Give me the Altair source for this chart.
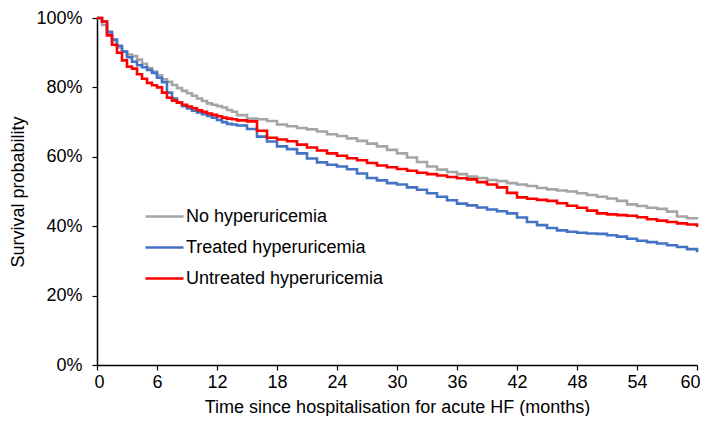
import altair as alt
import pandas as pd

months = [i * 0.5 for i in range(29)] + list(range(15, 61))

no_hyper = [100, 98, 95.5, 93.4, 91.5, 90.3, 89.5, 89, 88, 86.8, 85.6, 84.6, 83.5, 82.3,
            81.6, 80.7, 79.8, 79, 78.3, 77.6, 76.8, 76.1, 75.4, 75, 74.6, 74.2, 73.5, 73, 72,
            71, 70.8, 70.3, 69.3, 68.8, 68.3, 67.9, 67.3, 66.5, 66,
            65.3, 64.6, 63.8, 63, 62, 61, 59.8, 58.5, 57.2, 56.3,
            55.6, 55, 54.3, 53.9, 53.3, 53, 52.4, 52, 51.6, 51,
            50.6, 50.3, 50, 49.5, 49, 48.5, 48, 47.3, 46.3, 45.8,
            45.3, 45, 44.2, 42.8, 42.3, 42]
treated = [100, 99, 96, 93.8, 92, 90.3, 88.7, 87.4, 86.4, 85.8, 85, 84.2, 82.8, 81.5,
           78.5, 76.8, 75.6, 74.6, 73.9, 73.3, 72.8, 72.3, 71.8, 71.3, 70.6, 70, 69.5, 69.3, 69,
           68, 65.8, 64.4, 63, 62.2, 61, 59.5, 58.4, 57.7, 57.2,
           56.4, 55.2, 53.9, 53.2, 52.4, 52, 51.2, 50.5, 49.5, 48.5,
           47.5, 46.5, 46, 45.4, 44.8, 44.3, 43.7, 42.5, 41.2, 40.3,
           39.5, 38.8, 38.4, 38.1, 37.9, 37.8, 37.4, 37, 36.4, 35.8,
           35.4, 35, 34.5, 34, 33.4, 32.5]
untreated = [100, 99, 95, 92.3, 90, 87.8, 86, 85.4, 83.8, 82.5, 81.3, 80.6, 80, 78.5,
             77, 76.2, 75.6, 75, 74.5, 74, 73.4, 73, 72.5, 72.1, 71.7, 71.3, 71, 70.8, 70.5,
             70.2, 67.5, 65.5, 65, 64.5, 63.5, 62.7, 61.8, 61, 60.3,
             59.6, 59, 58.2, 57.5, 57, 56.5, 56, 55.4, 55, 54.6,
             54.2, 53.8, 53.5, 52.7, 52, 51.2, 49.6, 48.3, 47.9, 47.6,
             47.3, 46.6, 45.9, 45.3, 44.5, 43.7, 43.4, 43.2, 43, 42.6,
             42, 41.6, 41.2, 40.8, 40.5, 39.8]

series_names = ["No hyperuricemia", "Treated hyperuricemia", "Untreated hyperuricemia"]
series_colors = ["#A5A5A5", "#4472C4", "#FF0000"]
x_ticks = list(range(0, 61, 6))
y_ticks = [0, 0.2, 0.4, 0.6, 0.8, 1.0]

rows = []
for k, (name, vals) in enumerate(zip(series_names, [no_hyper, treated, untreated])):
    for m, v in zip(months, vals):
        rows.append({"month": m, "surv": v / 100, "group": name, "k": k})
df = pd.DataFrame(rows)

FONT = "Liberation Sans"

chart = alt.Chart(df).mark_line(strokeWidth=2.6, interpolate="step-after").encode(
    x=alt.X("month:Q",
            scale=alt.Scale(domain=[0, 60], nice=False, zero=False),
            axis=alt.Axis(values=x_ticks, title="Time since hospitalisation for acute HF (months)",
                          grid=False, domainColor="black", domainWidth=1.5,
                          tickColor="black", tickSize=5, tickWidth=1.2,
                          labelFontSize=18, titleFontSize=18, labelColor="black",
                          titleColor="black", titleFontWeight="normal",
                          labelFont=FONT, titleFont=FONT, labelPadding=3, titlePadding=7,
                          labelFlush=True, labelFlushOffset=3)),
    y=alt.Y("surv:Q",
            scale=alt.Scale(domain=[0, 1], nice=False),
            axis=alt.Axis(values=y_ticks, format="%", title="Survival probability",
                          grid=False, domainColor="black", domainWidth=1.5,
                          tickColor="black", tickSize=5, tickWidth=1.2,
                          labelFontSize=18, titleFontSize=18, labelColor="black",
                          titleColor="black", titleFontWeight="normal",
                          labelFont=FONT, titleFont=FONT, labelPadding=10, titlePadding=8)),
    color=alt.Color("group:N",
                    scale=alt.Scale(domain=series_names, range=series_colors),
                    legend=alt.Legend(title=None, orient="none", legendX=47, legendY=183,
                                      symbolType="stroke", symbolSize=1444,
                                      symbolStrokeWidth=2.6, labelFontSize=18,
                                      labelFont=FONT, labelColor="black", labelLimit=0,
                                      clipHeight=31, rowPadding=0, labelOffset=1)),
    order=alt.Order("month:Q"),
).properties(
    width=600, height=347,
    autosize=alt.AutoSizeParams(type="none"),
    padding={"left": 89, "top": 10, "right": 3, "bottom": 51},
).configure_view(stroke=None)

chart.save("out.html", embed_options={"renderer": "svg", "actions": False})
